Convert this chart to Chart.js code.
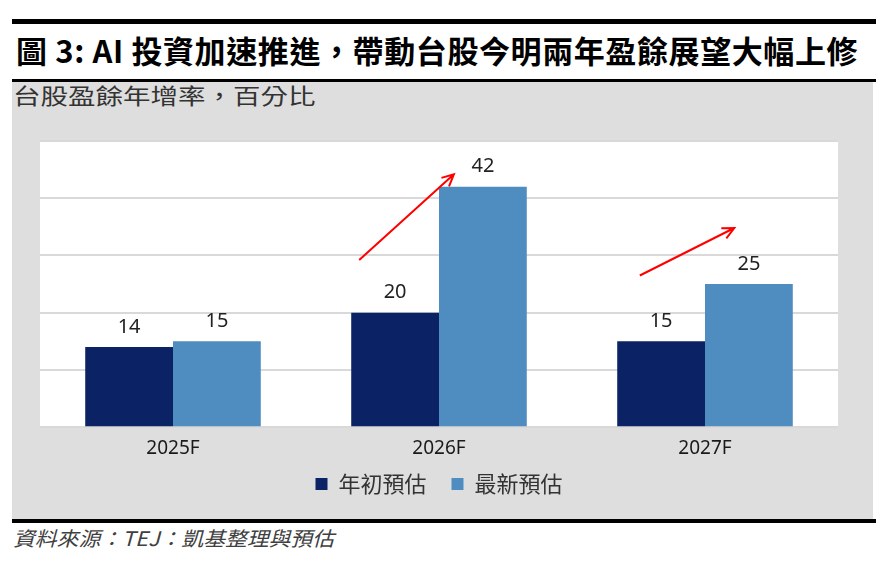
<!DOCTYPE html>
<html>
<head>
<meta charset="utf-8">
<script src="https://cdn.jsdelivr.net/npm/chart.js@4.4.1/dist/chart.umd.min.js"></script>
<style>
    body { margin: 0; width: 888px; height: 563px; background: #fff; position: relative; overflow: hidden; font-family: "Noto Sans CJK TC", "Noto Sans", sans-serif; }
    .rule { position: absolute; left: 12px; width: 864px; background: #000; }
    #title { position: absolute; left: 16px; top: 27px; font-size: 31px; font-weight: bold; color: #000; white-space: nowrap; letter-spacing: 0.6px; }
    #panel { position: absolute; left: 12px; top: 82px; width: 861px; height: 437px; background: #dedede; }
    #sub { position: absolute; left: 13px; top: 78px; font-size: 22px; color: #333; white-space: nowrap; transform-origin: left top; transform: scaleX(1.25); }
    #wrap { position: absolute; left: 12px; top: 120px; width: 861px; height: 395px; }
    #source { position: absolute; left: 13px; top: 523px; font-size: 20px; font-style: italic; color: #404040; white-space: nowrap; transform-origin: left top; transform: scaleX(1.09); }
</style>
</head>
<body>
<div class="rule" style="top:19px;height:5px"></div>
<div id="title">圖 3: AI 投資加速推進，帶動台股今明兩年盈餘展望大幅上修</div>
<div class="rule" style="top:79px;height:3px"></div>
<div id="panel"></div>
<div id="sub">台股盈餘年增率，百分比</div>
<div id="wrap"><canvas id="myChart"></canvas></div>
<div class="rule" style="top:519px;height:4px"></div>
<div id="source">資料來源：TEJ：凱基整理與預估</div>

<script>
// 資料
const categories = ['2025F', '2026F', '2027F'];
const seriesNames = ['年初預估', '最新預估'];
const earlyEstimate = [14, 20, 15];
const latestEstimate = [15, 42, 25];
const yTicks = [0, 10, 20, 30, 40, 50];

// 紅色箭頭 (相對於類別中心與數值)
const arrows = [
    { cat: 1, x0: -0.30, v0: 29.2, x1: 0.056, v1: 44.2 },
    { cat: 2, x0: -0.245, v0: 26.5, x1: 0.11, v1: 34.8 }
];

const plotBg = {
    id: 'plotBg',
    beforeDraw(chart) {
        const a = chart.chartArea, ctx = chart.ctx;
        ctx.save();
        ctx.fillStyle = '#ffffff';
        ctx.fillRect(a.left, a.top, a.right - a.left, a.bottom - a.top);
        ctx.restore();
    }
};

const valueLabels = {
    id: 'valueLabels',
    afterDatasetsDraw(chart) {
        const ctx = chart.ctx;
        ctx.save();
        ctx.font = '20px "Noto Sans", sans-serif';
        ctx.fillStyle = '#222';
        ctx.textAlign = 'center';
        ctx.textBaseline = 'bottom';
        chart.data.datasets.forEach(function (ds, i) {
            chart.getDatasetMeta(i).data.forEach(function (bar, j) {
                ctx.fillText(ds.data[j], bar.x, bar.y - 10);
            });
        });
        ctx.restore();
    }
};

const arrowPlugin = {
    id: 'arrowPlugin',
    afterDraw(chart) {
        const ctx = chart.ctx, xs = chart.scales.x, ys = chart.scales.y;
        const w = (xs.right - xs.left) / categories.length;
        ctx.save();
        ctx.strokeStyle = '#ff0000';
        ctx.lineWidth = 2;
        arrows.forEach(function (a) {
            const c = xs.getPixelForValue(a.cat);
            const x0 = c + a.x0 * w, y0 = ys.getPixelForValue(a.v0);
            const x1 = c + a.x1 * w, y1 = ys.getPixelForValue(a.v1);
            const ang = Math.atan2(y1 - y0, x1 - x0);
            ctx.beginPath();
            ctx.moveTo(x0, y0);
            ctx.lineTo(x1, y1);
            ctx.moveTo(x1 - 13 * Math.cos(ang - 0.45), y1 - 13 * Math.sin(ang - 0.45));
            ctx.lineTo(x1, y1);
            ctx.lineTo(x1 - 13 * Math.cos(ang + 0.45), y1 - 13 * Math.sin(ang + 0.45));
            ctx.stroke();
        });
        ctx.restore();
    }
};

let ctx = document.getElementById('myChart').getContext('2d');

let barChart = new Chart(ctx, {
    type: 'bar',
    data: {
        labels: categories,
        datasets: [{
            label: seriesNames[0],
            data: earlyEstimate,
            backgroundColor: '#0b2265',
            borderWidth: 0
        }, {
            label: seriesNames[1],
            data: latestEstimate,
            backgroundColor: '#4f8cc0',
            borderWidth: 0
        }]
    },
    options: {
        responsive: true,
        maintainAspectRatio: false,
        animation: false,
        categoryPercentage: 0.66,
        barPercentage: 1,
        layout: { padding: { left: 28, right: 35, top: 21, bottom: 10 } },
        plugins: {
            legend: {
                position: 'bottom',
                labels: {
                    boxWidth: 12,
                    boxHeight: 12,
                    padding: 3,
                    color: '#333',
                    font: { size: 22, family: '"Noto Sans CJK TC", sans-serif' },
                    generateLabels: function (chart) {
                        const items = Chart.defaults.plugins.legend.labels.generateLabels(chart);
                        items.forEach(function (it, i) {
                            if (i < items.length - 1) it.text += '\u3000';
                        });
                        return items;
                    }
                }
            },
            tooltip: { enabled: false }
        },
        scales: {
            x: {
                grid: { display: false, drawTicks: false },
                border: { display: false },
                ticks: { color: '#1a1a1a', padding: 10, font: { size: 19, family: '"Noto Sans", sans-serif' } }
            },
            y: {
                min: yTicks[0],
                max: yTicks[yTicks.length - 1],
                afterBuildTicks: function (axis) {
                    axis.ticks = yTicks.map(function (v) { return { value: v }; });
                },
                ticks: { display: false },
                border: { display: false },
                grid: { color: '#d9d9d9', lineWidth: 2, drawTicks: false }
            }
        }
    },
    plugins: [plotBg, valueLabels, arrowPlugin]
});
</script>
</body>
</html>
